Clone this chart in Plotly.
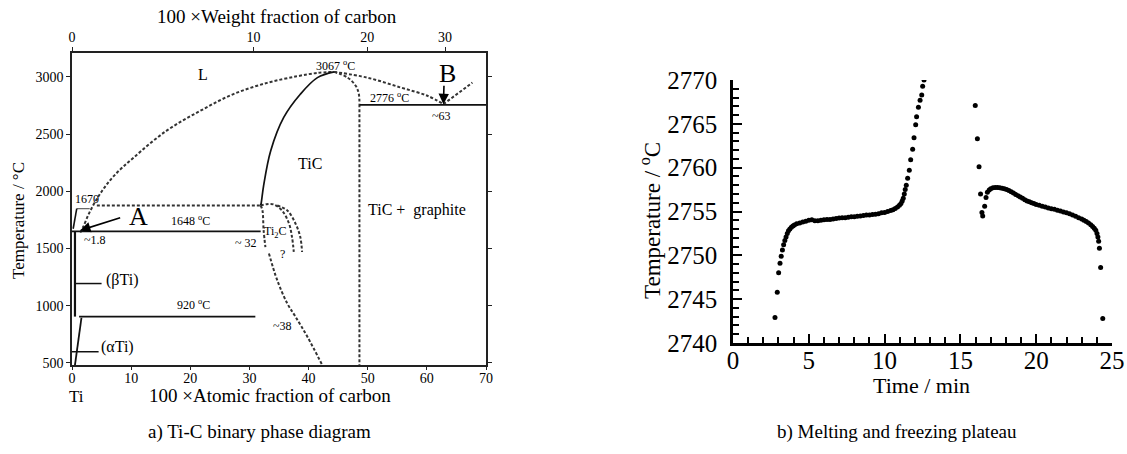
import plotly.graph_objects as go

# ---------------- Right panel: melting / freezing plateau ----------------
heat_t = [2.77, 2.92, 3.01, 3.10, 3.18, 3.26, 3.34, 3.42, 3.50, 3.58, 3.66, 3.75, 3.85, 3.95,
          4.05, 4.2, 4.4, 4.6, 4.8, 5.0, 5.2, 5.4, 5.6, 5.8, 6.0, 6.2, 6.4, 6.6, 6.8, 7.0,
          7.2, 7.4, 7.6, 7.8, 8.0, 8.2, 8.4, 8.6, 8.8, 9.0, 9.2, 9.4, 9.6, 9.8, 10.0, 10.2,
          10.4, 10.55, 10.7, 10.85, 10.98, 11.08, 11.16, 11.23, 11.30, 11.36, 11.43, 11.52,
          11.63, 11.72, 11.85, 11.94, 12.05, 12.11, 12.23, 12.34, 12.45, 12.51, 12.60]
heat_T = [2742.9, 2745.8, 2748.0, 2749.1, 2749.9, 2750.6, 2751.2, 2751.7, 2752.1, 2752.5,
          2752.8, 2753.0, 2753.2, 2753.35, 2753.45, 2753.6, 2753.7, 2753.8, 2753.9, 2754.0,
          2754.05, 2753.95, 2753.95, 2754.0, 2754.05, 2754.1, 2754.1, 2754.15, 2754.2,
          2754.25, 2754.3, 2754.3, 2754.35, 2754.4, 2754.4, 2754.45, 2754.5, 2754.55,
          2754.6, 2754.6, 2754.65, 2754.7, 2754.75, 2754.85, 2754.9, 2755.0, 2755.1,
          2755.2, 2755.35, 2755.5, 2755.7, 2755.9, 2756.2, 2756.5, 2757.0, 2757.5, 2758.0,
          2758.8, 2759.7, 2760.9, 2762.1, 2763.4, 2764.9, 2765.8, 2766.9, 2767.7, 2768.3,
          2769.3, 2770.0]
freeze_t = [15.98, 16.12, 16.23, 16.33, 16.42, 16.47, 16.60, 16.69, 16.78, 16.9, 17.0, 17.15,
            17.3, 17.45, 17.6, 17.75, 17.9, 18.05, 18.2, 18.35, 18.5, 18.65, 18.8, 18.95,
            19.1, 19.25, 19.4, 19.55, 19.7, 19.85, 20.0, 20.2, 20.4, 20.6, 20.8, 21.0, 21.2,
            21.4, 21.6, 21.8, 22.0, 22.2, 22.4, 22.6, 22.8, 23.0, 23.15, 23.3, 23.45, 23.6,
            23.72, 23.83, 23.93, 24.01, 24.07, 24.12, 24.17, 24.25, 24.39]
freeze_T = [2767.1, 2763.3, 2760.1, 2757.0, 2754.9, 2754.5, 2755.6, 2756.6, 2757.2, 2757.45,
            2757.6, 2757.7, 2757.75, 2757.75, 2757.7, 2757.65, 2757.6, 2757.5, 2757.4,
            2757.25, 2757.1, 2756.95, 2756.8, 2756.65, 2756.5, 2756.35, 2756.2, 2756.1,
            2756.0, 2755.9, 2755.8, 2755.7, 2755.6, 2755.5, 2755.4, 2755.3, 2755.25, 2755.15,
            2755.05, 2754.95, 2754.85, 2754.75, 2754.6, 2754.45, 2754.3, 2754.15, 2754.0,
            2753.85, 2753.7, 2753.5, 2753.3, 2753.1, 2752.85, 2752.5, 2752.1, 2751.6,
            2750.8, 2748.6, 2742.8]
time_ticks = [0, 5, 10, 15, 20, 25]
plateau_ticks = [2740, 2745, 2750, 2755, 2760, 2765, 2770]

# ---------------- Left panel: Ti-C phase diagram ----------------
atomic_ticks = [0, 10, 20, 30, 40, 50, 60, 70]
temp_ticks = [500, 1000, 1500, 2000, 2500, 3000]
weight_ticks = [0, 10, 20, 30]
M_TI, M_C = 47.867, 12.011

# dashed boundaries (x = at.% C, y = temperature)
liq_left_x = [1.4, 1.9, 3.0, 4.75, 7.0, 10.4, 16.0, 21.7, 27.3, 33.0, 38.0, 41.5, 44.3]
liq_left_y = [1640, 1690, 1820, 1978, 2130, 2294, 2530, 2704, 2850, 2948, 3005, 3035, 3044]
liq_right_x = [44.3, 49.9, 55.6, 60.1, 62.8]
liq_right_y = [3044, 2994, 2907, 2835, 2762]
graph_liq_x = [62.8, 67.7]
graph_liq_y = [2762, 2950]
tic_right_x = [44.3, 46.6, 48.0, 48.5, 48.6]
tic_right_y = [3044, 2994, 2920, 2850, 2762]
tic_vert_x = [48.6, 48.6]
tic_vert_y = [2762, 482]
h1876_x = [4.2, 31.9]
h1876_y = [1876, 1876]
arc1_x = [31.9, 33.0, 34.1, 35.5, 36.7, 37.2, 37.5]
arc1_y = [1876, 1888, 1885, 1833, 1717, 1600, 1470]
arc2_x = [34.7, 36.4, 37.8, 38.6, 38.9]
arc2_y = [1876, 1833, 1717, 1600, 1470]
ti2c_up_x = [31.9, 32.2, 32.4, 32.7]
ti2c_up_y = [1876, 1833, 1659, 1513]
ti2c_low_x = [33.3, 34.7, 36.4, 37.8, 39.8, 42.3]
ti2c_low_y = [1456, 1223, 1020, 903, 729, 483]

# solid boundaries
tic_left_x = [31.9, 32.0, 32.4, 33.6, 35.8, 38.6, 41.5, 44.3]
tic_left_y = [1876, 1900, 2050, 2355, 2646, 2849, 2994, 3044]
eut_x = [48.6, 70]
eut_y = [2756, 2756]
per1648_x = [0.0, 31.9]
per1648_y = [1650, 1650]
eut920_x = [1.2, 31.0]
eut920_y = [905, 905]
ti_melt_x = [0.2, 0.8]
ti_melt_y = [1673, 1848]
ti_melt_top_x = [0.8, 3.0]
ti_melt_top_y = [1848, 1848]
beta_solv_x = [0.5, 0.5]
beta_solv_y = [1650, 905]
alpha_solv_x = [1.6, 0.5]
alpha_solv_y = [895, 482]
beta_ptr_x = [0.5, 5.0]
beta_ptr_y = [1194, 1194]
alpha_ptr_x = [-0.3, 4.5]
alpha_ptr_y = [598, 598]


def wt_to_at(w):
    if w == 0:
        return 0.0
    nc = w / M_C
    nt = (100 - w) / M_TI
    return 100 * nc / (nc + nt)


FONT = "Liberation Serif, Times New Roman, serif"
W, H = 1127, 454


def px(x):
    return x / W


def py(y):
    return 1 - y / H


fig = go.Figure()

dash_sets = [(liq_left_x, liq_left_y), (liq_right_x, liq_right_y), (graph_liq_x, graph_liq_y),
             (tic_right_x, tic_right_y), (tic_vert_x, tic_vert_y), (h1876_x, h1876_y),
             (arc1_x, arc1_y), (arc2_x, arc2_y), (ti2c_up_x, ti2c_up_y),
             (ti2c_low_x, ti2c_low_y)]
for xs, ys in dash_sets:
    fig.add_trace(go.Scatter(x=xs, y=ys, mode="lines", xaxis="x", yaxis="y",
                             line=dict(color="#333333", width=2, dash="3px,2px", shape="spline"),
                             showlegend=False, hoverinfo="skip"))

solid_sets = [(tic_left_x, tic_left_y, 1.7), (eut_x, eut_y, 1.6), (per1648_x, per1648_y, 1.6),
              (eut920_x, eut920_y, 1.6), (ti_melt_x, ti_melt_y, 1.6),
              (ti_melt_top_x, ti_melt_top_y, 0.8),
              (beta_solv_x, beta_solv_y, 2.2), (alpha_solv_x, alpha_solv_y, 1.8),
              (beta_ptr_x, beta_ptr_y, 1.5), (alpha_ptr_x, alpha_ptr_y, 1.5)]
for xs, ys, w in solid_sets:
    fig.add_trace(go.Scatter(x=xs, y=ys, mode="lines", xaxis="x", yaxis="y",
                             line=dict(color="#111111", width=w, shape="spline"),
                             showlegend=False, hoverinfo="skip"))

# invisible carrier so the top (weight fraction) axis is drawn
fig.add_trace(go.Scatter(x=[0, 70], y=[1000, 1000], mode="markers", xaxis="x2", yaxis="y",
                         marker=dict(opacity=0, size=1), showlegend=False, hoverinfo="skip"))

# right panel data
for ts, Ts in [(heat_t, heat_T), (freeze_t, freeze_T)]:
    fig.add_trace(go.Scatter(x=ts, y=Ts, mode="markers", xaxis="x3", yaxis="y3",
                             marker=dict(color="black", size=5), showlegend=False))

ann = []
def t(text, x, y, size, xref="x", yref="y", **kw):
    ann.append(dict(text=text, x=x, y=y, xref=xref, yref=yref, showarrow=False,
                    xanchor="center", yanchor="middle",
                    font=dict(family=FONT, size=size, color="black"), **kw))

t("L", 22.2, 3017, 16)
t("3067 <sup>o</sup>C", 44.6, 3100, 12)
t("2776 <sup>o</sup>C", 53.6, 2818, 12)
t("~63", 62.4, 2660, 12)
t("B", 63.5, 3030, 26)
t("TiC", 40.3, 2242, 16)
t("TiC +  graphite", 58.3, 1833, 16)
t("1670", 2.6, 1929, 12)
t("A", 11.2, 1780, 26)
t("1648 <sup>o</sup>C", 20.0, 1746, 12)
t("~1.8", 3.9, 1571, 12)
t("~ 32", 29.5, 1545, 12)
t("Ti<sub>2</sub>C", 34.4, 1641, 12)
t("?", 35.6, 1450, 12)
t("(βTi)", 8.5, 1223, 16)
t("920 <sup>o</sup>C", 20.5, 1014, 12)
t("~38", 35.6, 822, 12)
t("(αTi)", 7.7, 642, 16)

ann.append(dict(x=1.36, y=1658, xref="x", yref="y", ax=8.4, ay=1774, axref="x", ayref="y",
                text="", showarrow=True, arrowhead=2, arrowsize=1.3, arrowwidth=1.6,
                arrowcolor="black"))
ann.append(dict(x=62.8, y=2762, xref="x", yref="y", ax=62.9, ay=2936, axref="x", ayref="y",
                text="", showarrow=True, arrowhead=2, arrowsize=1.3, arrowwidth=1.6,
                arrowcolor="black"))

t("100 ×Weight fraction of carbon", px(277), py(17), 19, "paper", "paper")
t("100 ×Atomic fraction of carbon", px(270), py(395), 19, "paper", "paper")
t("Ti", px(76), py(396), 17, "paper", "paper")
t("Temperature / °C", px(18), py(221), 17, "paper", "paper", textangle=-90)
t("Temperature / <sup>o</sup>C", px(650), py(221), 23, "paper", "paper", textangle=-90)
t("Time / min", px(921), py(385), 22, "paper", "paper")
t("a) Ti-C binary phase diagram", px(259), py(432), 19, "paper", "paper")
t("b) Melting and freezing plateau", px(897), py(432), 19, "paper", "paper")

axis_common = dict(showgrid=False, zeroline=False, showline=True, linecolor="#222222",
                   linewidth=1.5, tickcolor="#222222", automargin=False,
                   tickfont=dict(family=FONT, size=14, color="black"))

fig.update_layout(
    width=W, height=H, margin=dict(l=0, r=0, t=0, b=0, pad=0, autoexpand=False),
    paper_bgcolor="white", plot_bgcolor="white", showlegend=False,
    annotations=ann,
    xaxis=dict(domain=[px(72), px(486)], range=[0, 70], anchor="y", tickvals=atomic_ticks,
               ticks="outside", ticklen=3, mirror=True, ticklabelstandoff=-4, **axis_common),
    xaxis2=dict(domain=[px(72), px(486)], range=[0, 70], anchor="y", overlaying="x",
                side="top", tickvals=[wt_to_at(w) for w in weight_ticks],
                ticktext=[str(w) for w in weight_ticks], ticks="outside", ticklen=4,
                **axis_common),
    yaxis=dict(domain=[py(365), py(53)], range=[482, 3209], anchor="x", tickvals=temp_ticks,
               ticks="outside", ticklen=4, mirror="ticks", **axis_common),
    xaxis3=dict(domain=[px(733), px(1112)], range=[0, 25], anchor="y3", tickvals=time_ticks,
                ticks="inside", ticklen=9, tickwidth=2, showgrid=False, zeroline=False,
                showline=True, linecolor="black", linewidth=2.5, tickcolor="black",
                automargin=False,
                minor=dict(dtick=1, ticks="inside", ticklen=6, tickwidth=2, tickcolor="black"),
                tickfont=dict(family=FONT, size=25, color="black"), ticklabelstandoff=-7),
    yaxis3=dict(domain=[py(343), py(80)], range=[2740, 2770], anchor="x3",
                tickvals=plateau_ticks, ticks="inside", ticklen=9, tickwidth=2,
                showgrid=False, zeroline=False, showline=True, linecolor="black",
                linewidth=2.5, tickcolor="black", automargin=False,
                minor=dict(dtick=1, ticks="inside", ticklen=6, tickwidth=2, tickcolor="black"),
                tickfont=dict(family=FONT, size=25, color="black"), ticklabelstandoff=8),
)

fig.write_html("out.html")
